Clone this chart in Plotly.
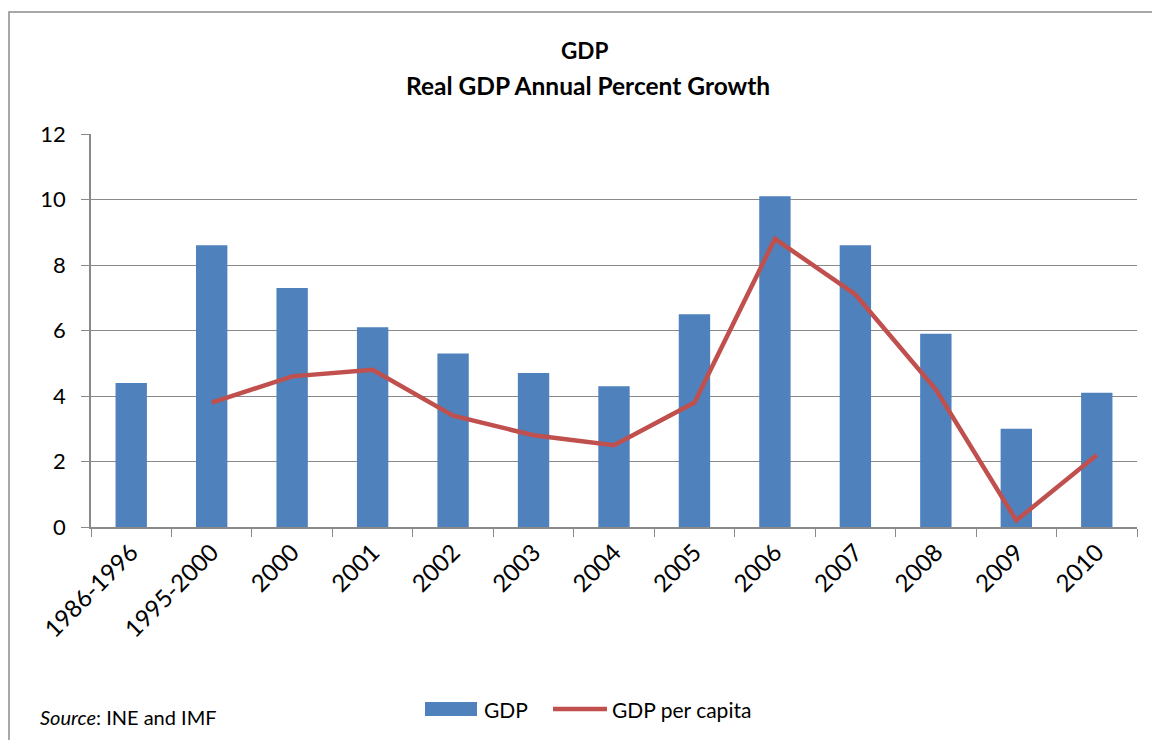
import plotly.graph_objects as go

categories = ["1986-1996", "1995-2000", "2000", "2001", "2002", "2003", "2004",
              "2005", "2006", "2007", "2008", "2009", "2010"]
gdp = [4.4, 8.6, 7.3, 6.1, 5.3, 4.7, 4.3, 6.5, 10.1, 8.6, 5.9, 3.0, 4.1]
gdp_per_capita = [None, 3.8, 4.6, 4.8, 3.4, 2.8, 2.5, 3.8, 8.8, 7.1, 4.2, 0.2, 2.2]
y_ticks = [0, 2, 4, 6, 8, 10, 12]

W, H = 1152, 740
ML, MR, MT, MB = 91, 15, 134, 213
PW, PH = W - ML - MR, H - MT - MB

def px(x):
    return (x - ML) / PW

def py(y):
    return (H - MB - y) / PH

FONT = "Lato"
BLUE = "#4F81BD"
RED = "#C0504D"
GRID = "#898989"

fig = go.Figure()
fig.add_trace(go.Bar(x=categories, y=gdp, name="GDP", marker=dict(color=BLUE, line=dict(width=0)),
                     width=0.39, showlegend=False))
fig.add_trace(go.Scatter(x=categories, y=gdp_per_capita, name="GDP per capita", mode="lines",
                         line=dict(color=RED, width=4.5), connectgaps=False, showlegend=False))

shapes = [
    # chart frame
    dict(type="rect", xref="paper", yref="paper", x0=px(9), x1=px(1170), y0=py(760), y1=py(12),
         line=dict(color="#8C8C8C", width=1.5), layer="below"),
    # legend symbols
    dict(type="rect", xref="paper", yref="paper", x0=px(425), x1=px(477), y0=py(716), y1=py(702),
         fillcolor=BLUE, line=dict(width=0)),
    dict(type="line", xref="paper", yref="paper", x0=px(553), x1=px(607), y0=py(709), y1=py(709),
         line=dict(color=RED, width=4.5)),
]

annotations = [
    dict(text="<b>GDP</b>", x=px(584), y=py(50), xref="paper", yref="paper", showarrow=False,
         font=dict(family=FONT, size=22.5, color="black"), xanchor="center", yanchor="middle"),
    dict(text="<b>Real GDP Annual Percent Growth</b>", x=px(588), y=py(85), xref="paper", yref="paper",
         showarrow=False, font=dict(family=FONT, size=24.5, color="black"), xanchor="center", yanchor="middle"),
    dict(text="<i>Source</i>: INE and IMF", x=px(38), y=py(717), xref="paper", yref="paper",
         showarrow=False, font=dict(family=FONT, size=20, color="black"), xanchor="left", yanchor="middle"),
    dict(text="GDP", x=px(482), y=py(709), xref="paper", yref="paper", showarrow=False,
         font=dict(family=FONT, size=21, color="black"), xanchor="left", yanchor="middle"),
    dict(text="GDP per capita", x=px(610), y=py(709), xref="paper", yref="paper", showarrow=False,
         font=dict(family=FONT, size=21, color="black"), xanchor="left", yanchor="middle"),
]

fig.update_layout(
    width=W, height=H,
    margin=dict(l=ML, r=MR, t=MT, b=MB),
    paper_bgcolor="white", plot_bgcolor="white",
    font=dict(family=FONT, size=22, color="black"),
    shapes=shapes, annotations=annotations,
    showlegend=False,
    xaxis=dict(type="category", tickangle=-45, tickson="boundaries", ticks="outside", ticklen=8,
               tickcolor=GRID, showline=True, linecolor=GRID, linewidth=1.5, showgrid=False,
               tickfont=dict(family=FONT, size=24), range=[-0.5, len(categories) - 0.5]),
    yaxis=dict(range=[0, 12], tickvals=y_ticks, ticks="outside", ticklen=8, tickcolor=GRID,
               showline=True, linecolor=GRID, linewidth=1.5, showgrid=True, gridcolor=GRID,
               gridwidth=1.2, zeroline=False, tickfont=dict(family=FONT, size=22),
               ticklabelstandoff=11),
)

fig.write_html("out.html")
